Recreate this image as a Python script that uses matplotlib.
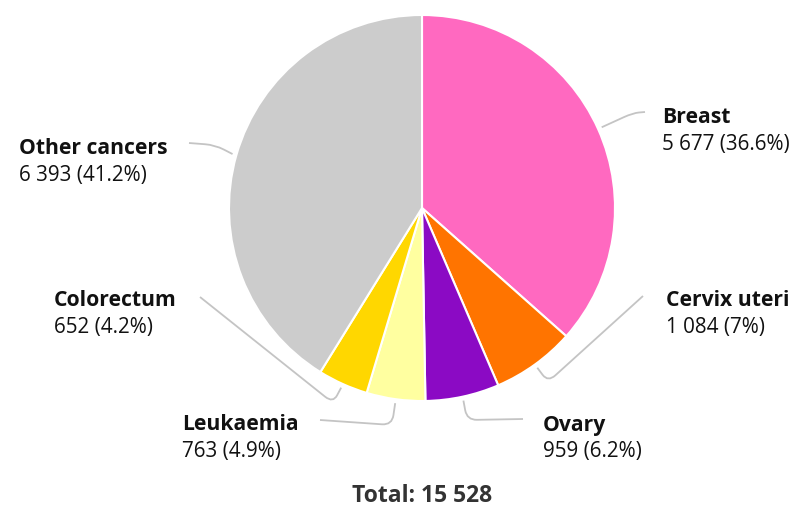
import matplotlib.pyplot as plt
import numpy as np
from matplotlib.path import Path
from matplotlib.patches import PathPatch

plt.rcParams['font.family'] = ['Open Sans', 'Noto Sans', 'DejaVu Sans']

labels = ['Breast', 'Cervix uteri', 'Ovary', 'Leukaemia', 'Colorectum', 'Other cancers']
counts = [5677, 1084, 959, 763, 652, 6393]
percents = ['36.6%', '7%', '6.2%', '4.9%', '4.2%', '41.2%']
colors = ['#ff69c0', '#ff7400', '#8b0ac4', '#ffffa0', '#ffd700', '#cccccc']

W, H = 797, 509
cx, cy, R = 422, 208, 193

# label layout in pixels: text left x, bold line y, leader corner, leader end
text_pos = [(662, 117), (666, 301), (543, 425), (182, 424), (54, 301), (19, 148)]
corners = [(633, 113), (548, 382), (467, 420), (392, 425), (333, 403), (215, 145)]
ends = [(645, 112), (643, 296), (523, 419), (320, 420), (200, 297), (189, 143)]


def fmt(n):
    return f"{n:,}".replace(',', ' ')


def rounded(p0, c, p1, rad=10):
    p0, c, p1 = np.array(p0, float), np.array(c, float), np.array(p1, float)
    d0 = (p0 - c) / np.linalg.norm(p0 - c)
    d1 = (p1 - c) / np.linalg.norm(p1 - c)
    r0 = min(rad, np.linalg.norm(p0 - c) * 0.5)
    r1 = min(rad, np.linalg.norm(p1 - c) * 0.5)
    a = c + d0 * r0
    b = c + d1 * r1
    verts = [p0, a, c, b, p1]
    codes = [Path.MOVETO, Path.LINETO, Path.CURVE3, Path.CURVE3, Path.LINETO]
    return Path([(x, H - y) for x, y in verts], codes)


fig = plt.figure(figsize=(W / 100, H / 100), dpi=100)
ax = fig.add_axes([0, 0, 1, 1])

ax.pie(counts, colors=colors, startangle=90, counterclock=False,
       center=(cx, H - cy), radius=R,
       wedgeprops=dict(edgecolor='white', linewidth=1.5))
ax.set_xlim(0, W)
ax.set_ylim(0, H)
ax.set_aspect('equal')
ax.axis('off')

total = sum(counts)
cum = np.cumsum([0] + counts)
for i, lab in enumerate(labels):
    mid = (cum[i] + cum[i + 1]) / 2 / total
    ang = np.radians(90 - mid * 360)
    start = (cx + (R + 4) * np.cos(ang), cy - (R + 4) * np.sin(ang))
    ax.add_patch(PathPatch(rounded(start, corners[i], ends[i]), fill=False,
                           edgecolor='#c4c4c4', linewidth=1.3))
    tx, ty = text_pos[i]
    ax.text(tx, H - ty, lab, fontsize=15.2, fontweight='bold', color='#111111',
            ha='left', va='center')
    ax.text(tx, H - ty - 27, f"{fmt(counts[i])} ({percents[i]})", fontsize=14.9,
            color='#111111', ha='left', va='center')

ax.text(cx, H - 496, f"Total: {fmt(total)}", fontsize=16.5, fontweight='bold',
        color='#333333', ha='center', va='center')

fig.savefig('out.png', dpi=100)
